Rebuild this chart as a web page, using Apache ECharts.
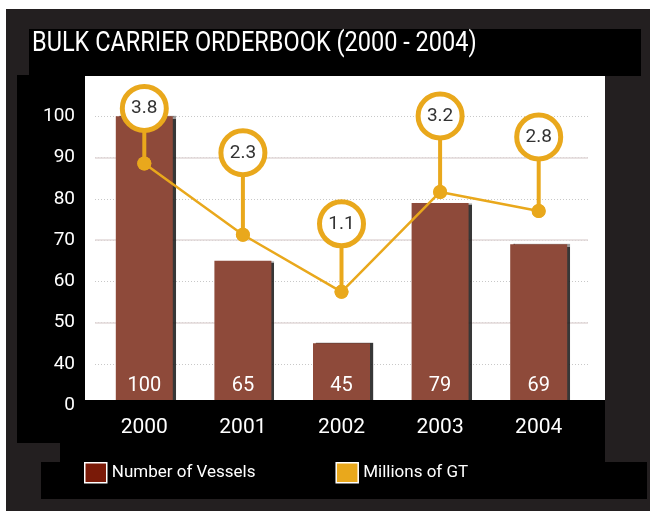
<!DOCTYPE html>
<html>
<head>
<meta charset="utf-8">
<script src="https://cdn.jsdelivr.net/npm/echarts@6/dist/echarts.min.js"></script>
<style>
  html, body { margin: 0; padding: 0; background: #fff; }
  #chart { width: 650px; height: 511px; }
</style>
</head>
<body>
<div id="chart"></div>
<script>
const years = ['2000', '2001', '2002', '2003', '2004'];
const vessels = [100, 65, 45, 79, 69];
const grossTons = [3.8, 2.3, 1.1, 3.2, 2.8];
// how far each callout bubble sits above its point (px)
const calloutLift = [55, 82, 68, 76, 74];

const FONT = 'Roboto, "DejaVu Sans", sans-serif';
const GOLD = '#e9a81c';
const BAR = '#8e4a3a';

const chart = echarts.init(document.getElementById('chart'));

chart.setOption({
  animation: false,
  backgroundColor: '#fff',
  textStyle: { fontFamily: FONT },
  graphic: [
    { type: 'rect', z: -10, shape: { x: 6, y: 9, width: 644, height: 502 }, style: { fill: '#231f20' } },
    { type: 'rect', z: -9, shape: { x: 29, y: 29, width: 612, height: 47 }, style: { fill: '#000' } },
    { type: 'rect', z: -9, shape: { x: 17, y: 75, width: 588, height: 368 }, style: { fill: '#000' } },
    { type: 'rect', z: -9, shape: { x: 60, y: 442, width: 545, height: 21 }, style: { fill: '#000' } },
    { type: 'rect', z: -9, shape: { x: 41, y: 462, width: 606, height: 37 }, style: { fill: '#000' } },
    { type: 'rect', z: -8, shape: { x: 85, y: 76, width: 520, height: 324 }, style: { fill: '#fff' } },
    { type: 'rect', z: 50, shape: { x: 85, y: 400, width: 520, height: 10 }, style: { fill: '#000' } },
    // condensed title
    {
      type: 'text', x: 32, y: 44, scaleX: 0.84, z: 10,
      style: {
        text: 'BULK CARRIER ORDERBOOK (2000 - 2004)',
        fill: '#fff', fontSize: 28, fontFamily: FONT,
        align: 'left', verticalAlign: 'middle'
      }
    }
  ],
  legend: {
    left: 84, top: 462, padding: 0,
    itemWidth: 22, itemHeight: 20, itemGap: 80,
    textStyle: { color: '#fff', fontSize: 17, fontFamily: FONT },
    data: [
      { name: 'Number of Vessels', icon: 'rect', itemStyle: { color: '#7a1a08', borderColor: '#fff', borderWidth: 1.5 } },
      { name: 'Millions of GT', icon: 'rect', itemStyle: { color: GOLD, borderColor: '#fff', borderWidth: 1.5 } }
    ]
  },
  grid: { left: 95, right: 62, top: 75, bottom: 106 },
  xAxis: {
    type: 'category',
    data: years,
    z: 60,
    axisLine: { show: false },
    axisTick: { show: false },
    axisLabel: { color: '#fff', fontSize: 21, margin: 12, fontFamily: FONT }
  },
  yAxis: [
    {
      type: 'value', min: 30, max: 110, interval: 10,
      axisLine: { show: false }, axisTick: { show: false },
      axisLabel: {
        color: '#fff', fontSize: 19, margin: 20, fontFamily: FONT,
        formatter: v => (v === 30 ? '0' : v === 110 ? '' : String(v))
      },
      splitLine: { showMinLine: false, showMaxLine: false, lineStyle: { color: '#c8c8c8', type: [1, 2], width: 1 } }
    },
    {
      type: 'value', min: 30, max: 110, interval: 20,
      axisLine: { show: false }, axisTick: { show: false }, axisLabel: { show: false },
      splitLine: { showMinLine: false, showMaxLine: false, lineStyle: { color: '#e2d9d9', width: 1.5 } }
    },
    {
      type: 'value', min: -1.28, max: 5.66, show: false,
      splitLine: { show: false }
    }
  ],
  series: [
    {
      name: 'Number of Vessels',
      type: 'bar',
      data: vessels,
      barWidth: 57,
      itemStyle: { color: BAR, shadowColor: 'rgba(20,20,20,0.85)', shadowOffsetX: 3, shadowBlur: 1 },
      label: {
        show: true, position: 'insideBottom', distance: 9,
        color: '#fff', fontSize: 20, fontFamily: FONT
      }
    },
    {
      name: 'Millions of GT',
      type: 'line',
      yAxisIndex: 2,
      data: grossTons,
      z: 3,
      symbol: 'circle', symbolSize: 14,
      lineStyle: { color: GOLD, width: 2.5 },
      itemStyle: { color: GOLD }
    },
    {
      type: 'custom',
      yAxisIndex: 2,
      z: 4,
      data: grossTons.map((v, i) => [i, v]),
      renderItem(params, api) {
        const p = api.coord([api.value(0), api.value(1)]);
        const cy = p[1] - calloutLift[params.dataIndex];
        return {
          type: 'group',
          children: [
            { type: 'line', shape: { x1: p[0], y1: p[1], x2: p[0], y2: cy + 22 }, style: { stroke: GOLD, lineWidth: 4 } },
            { type: 'circle', shape: { cx: p[0], cy: p[1], r: 7 }, style: { fill: GOLD } },
            { type: 'circle', shape: { cx: p[0], cy: cy, r: 22 }, style: { fill: '#fff', stroke: GOLD, lineWidth: 5 } },
            {
              type: 'text',
              style: {
                text: api.value(1).toFixed(1), x: p[0], y: cy,
                align: 'center', verticalAlign: 'middle',
                fontSize: 19, fontFamily: FONT, fill: '#333'
              }
            }
          ]
        };
      }
    }
  ]
});
</script>
</body>
</html>
